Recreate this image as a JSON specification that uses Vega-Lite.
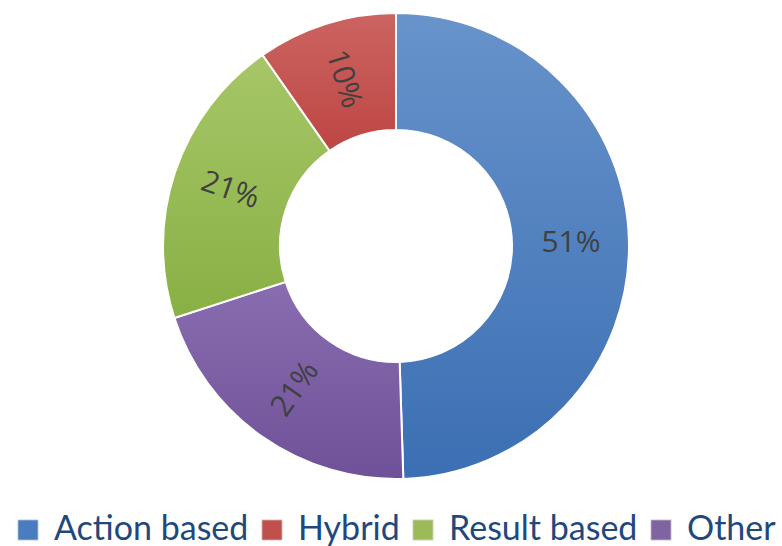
{
  "$schema": "https://vega.github.io/schema/vega-lite/v6.json",
  "autosize": {"type": "none"},
  "width": 468,
  "height": 468,
  "padding": {"left": 162, "top": 12, "right": 152, "bottom": 66},
  "background": "white",
  "config": {"view": {"stroke": null}},
  "data": {
    "values": [
      {"category": "Action based", "value": 49.5, "label": "51%", "order": 1},
      {"category": "Other", "value": 20.5, "label": "21%", "order": 2},
      {"category": "Result based", "value": 20.3, "label": "21%", "order": 3},
      {"category": "Hybrid", "value": 9.7, "label": "10%", "order": 4}
    ]
  },
  "encoding": {
    "theta": {"field": "value", "type": "quantitative", "stack": true},
    "order": {"field": "order", "type": "quantitative"}
  },
  "layer": [
    {
      "mark": {"type": "arc", "radius": 233, "innerRadius": 116, "stroke": "white", "strokeWidth": 2},
      "encoding": {
        "color": {
          "field": "category",
          "type": "nominal",
          "scale": {
            "domain": ["Action based", "Hybrid", "Result based", "Other"],
            "range": ["#4a7dbf", "#c0504d", "#9bbb59", "#8064a2"]
          },
          "legend": {
            "title": null,
            "orient": "none",
            "direction": "horizontal",
            "columns": 4,
            "legendX": -151,
            "legendY": 501,
            "symbolType": "square",
            "symbolSize": 420,
            "symbolStrokeWidth": 1,
            "symbolStrokeColor": "#e6e6e6",
            "labelFont": "Lato",
            "labelFontSize": 34,
            "labelColor": "#1f497d",
            "labelLimit": 400,
            "labelOffset": 9,
            "columnPadding": 6
          }
        }
      }
    },
    {
      "mark": {"type": "arc", "radius": 233, "innerRadius": 116, "stroke": "white", "strokeWidth": 2},
      "encoding": {
        "fill": {
          "condition": [
            {"test": "datum.category === 'Action based'", "value": {"gradient": "linear", "x1": 0, "y1": 0, "x2": 0, "y2": 1, "stops": [{"offset": 0, "color": "#6893cb"}, {"offset": 1, "color": "#3b6fb3"}]}},
            {"test": "datum.category === 'Hybrid'", "value": {"gradient": "linear", "x1": 0, "y1": 0, "x2": 0, "y2": 1, "stops": [{"offset": 0, "color": "#cc6461"}, {"offset": 1, "color": "#bd4643"}]}},
            {"test": "datum.category === 'Result based'", "value": {"gradient": "linear", "x1": 0, "y1": 0, "x2": 0, "y2": 1, "stops": [{"offset": 0, "color": "#a7c668"}, {"offset": 1, "color": "#88b044"}]}},
            {"test": "datum.category === 'Other'", "value": {"gradient": "linear", "x1": 0, "y1": 0, "x2": 0, "y2": 1, "stops": [{"offset": 0, "color": "#8a6cb0"}, {"offset": 1, "color": "#6e5198"}]}}
          ],
          "value": "#888888"
        }
      }
    },
    {
      "mark": {"type": "text", "radius": 175, "font": "Open Sans", "fontSize": 30, "fill": "#404040"},
      "encoding": {
        "text": {"field": "label"},
        "angle": {
          "condition": [
            {"test": "datum.category === 'Hybrid'", "value": 73},
            {"test": "datum.category === 'Result based'", "value": 19},
            {"test": "datum.category === 'Other'", "value": 305}
          ],
          "value": 0
        }
      }
    }
  ]
}
